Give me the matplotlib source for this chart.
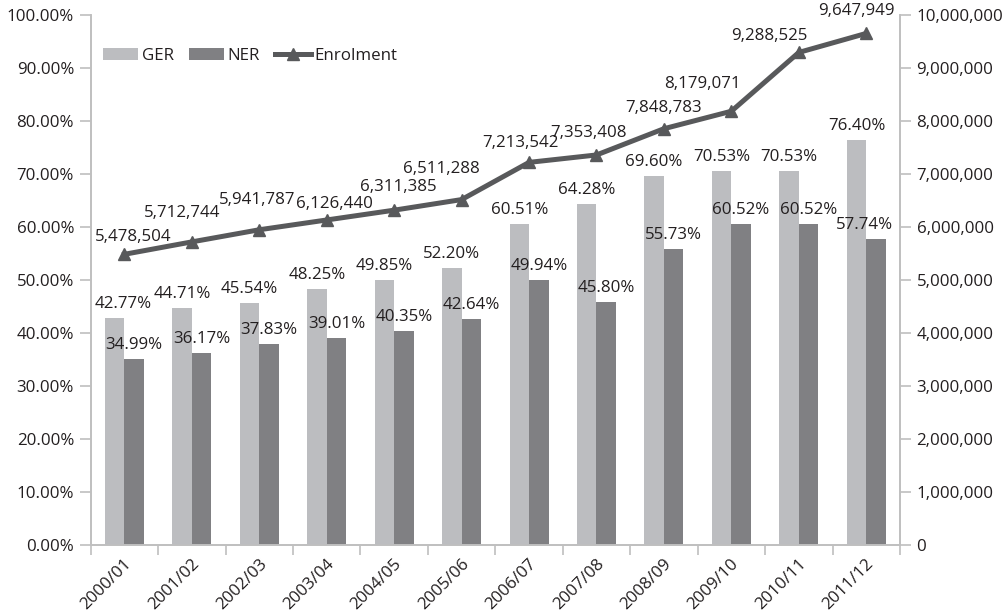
import matplotlib
matplotlib.use("Agg")
import matplotlib.pyplot as plt
import matplotlib.transforms as mtransforms
import numpy as np
from matplotlib.ticker import FuncFormatter, FixedLocator

plt.rcParams['font.family'] = ['Open Sans', 'DejaVu Sans']

years = ["2000/01", "2001/02", "2002/03", "2003/04", "2004/05", "2005/06",
         "2006/07", "2007/08", "2008/09", "2009/10", "2010/11", "2011/12"]
ger = [42.77, 44.71, 45.54, 48.25, 49.85, 52.20, 60.51, 64.28, 69.60, 70.53, 70.53, 76.40]
ner = [34.99, 36.17, 37.83, 39.01, 40.35, 42.64, 49.94, 45.80, 55.73, 60.52, 60.52, 57.74]
enrolment = [5478504, 5712744, 5941787, 6126440, 6311385, 6511288,
             7213542, 7353408, 7848783, 8179071, 9288525, 9647949]

# label offsets in pixels (style only)
enr_dx = [9, -10, -2, 8, 4, -20, -9, -8, 0, -29, -29, -10]
enr_dy = [17, 29, 30, 16, 23, 31, 19, 22, 21, 27, 16, 22]
ger_dx = [8, 0, 0, 0, 0, 0, 0, 0, 0, 0, 0, 0]
ner_dx = [0, 0, 0, 0, 0, 0, 0, 0, 0, 0, 0, -11]

c_ger = '#BCBDC0'
c_ner = '#808083'
c_line = '#58595B'
c_spine = '#BFBFBF'
c_text = '#231F20'
fs = 12.2

fig = plt.figure(figsize=(10.07, 6.15), dpi=100)
ax = fig.add_axes([0.0901, 0.1146, 0.8036, 0.8614])
ax2 = ax.twinx()

x = np.arange(len(years))
w = 0.289
ax.bar(x - w/2, ger, w, color=c_ger, label='GER', zorder=2)
ax.bar(x + w/2, ner, w, color=c_ner, label='NER', zorder=2)

ax.set_xlim(-0.5, len(years) - 0.5)
ax.set_ylim(0, 100)
ax.set_yticks(np.arange(0, 101, 10))
ax.yaxis.set_major_formatter(FuncFormatter(lambda v, p: f"{v:.2f}%"))

ax2.plot(x, enrolment, color=c_line, lw=3.6, marker='^', ms=8,
         label='Enrolment', zorder=3)
ax2.set_ylim(0, 10000000)
ax2.set_yticks(np.arange(0, 10000001, 1000000))
ax2.yaxis.set_major_formatter(FuncFormatter(lambda v, p: f"{int(v):,}"))

# x ticks at category boundaries, labels at centers
ax.xaxis.set_major_locator(FixedLocator(np.arange(-0.5, len(years), 1)))
ax.xaxis.set_major_formatter(FuncFormatter(lambda v, p: ""))
ax.xaxis.set_minor_locator(FixedLocator(x))
ax.set_xticklabels(years, minor=True, rotation=45, ha='right', va='center',
                   rotation_mode='anchor', fontsize=fs, color=c_text)
ax.tick_params(axis='x', which='minor', length=0, pad=12)
ax.tick_params(axis='x', which='major', length=7, color=c_spine, width=1.2)
shift = mtransforms.ScaledTranslation(5/100, 0, fig.dpi_scale_trans)
for lab in ax.get_xticklabels(minor=True):
    lab.set_transform(lab.get_transform() + shift)

for a in (ax, ax2):
    for s in a.spines.values():
        s.set_color(c_spine)
        s.set_linewidth(1.2)
    a.spines['top'].set_visible(False)
ax.tick_params(axis='y', length=8, color=c_spine, width=1.2, labelsize=fs,
               labelcolor=c_text, pad=4)
ax2.tick_params(axis='y', length=8, color=c_spine, width=1.2, labelsize=fs,
                labelcolor=c_text, pad=4)

for i in range(len(years)):
    ax.annotate(f"{ger[i]:.2f}%", (x[i] - w/2, ger[i]), xytext=(ger_dx[i], 6),
                textcoords='offset pixels', ha='center', va='bottom',
                fontsize=fs, color=c_text, zorder=5)
    ax.annotate(f"{ner[i]:.2f}%", (x[i] + w/2, ner[i]), xytext=(ner_dx[i], 6),
                textcoords='offset pixels', ha='center', va='bottom',
                fontsize=fs, color=c_text, zorder=5)
    ax2.annotate(f"{enrolment[i]:,}", (x[i], enrolment[i]),
                 xytext=(enr_dx[i], enr_dy[i]), textcoords='offset pixels',
                 ha='center', va='center', fontsize=fs, color=c_text, zorder=5)

h1, l1 = ax.get_legend_handles_labels()
h2, l2 = ax2.get_legend_handles_labels()
leg = ax2.legend(h1 + h2, l1 + l2, loc='upper left', bbox_to_anchor=(0.0, 0.96),
                 ncol=3, frameon=False, fontsize=fs, handlelength=2.1,
                 handletextpad=0.2, columnspacing=0.9, borderaxespad=0.3)
for t in leg.get_texts():
    t.set_color(c_text)

fig.savefig("out.png", dpi=100)
